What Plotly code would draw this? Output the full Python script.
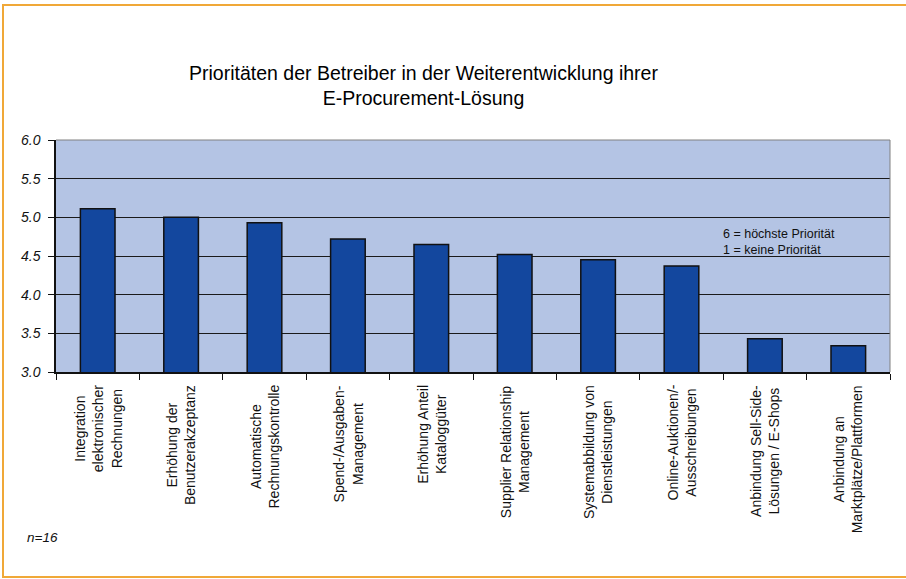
import plotly.graph_objects as go

categories = [
    "Integration<br>elektronischer<br>Rechnungen",
    "Erhöhung der<br>Benutzerakzeptanz",
    "Automatische<br>Rechnungskontrolle",
    "Spend-/Ausgaben-<br>Management",
    "Erhöhung Anteil<br>Kataloggüter",
    "Supplier Relationship<br>Management",
    "Systemabbildung von<br>Dienstleistungen",
    "Online-Auktionen/-<br>Ausschreibungen",
    "Anbindung Sell-Side-<br>Lösungen / E-Shops",
    "Anbindung an<br>Marktplätze/Plattformen",
]
values = [5.11, 5.00, 4.93, 4.72, 4.65, 4.52, 4.45, 4.37, 3.43, 3.34]
y_ticks = [3.0, 3.5, 4.0, 4.5, 5.0, 5.5, 6.0]
title_text = "Prioritäten der Betreiber in der Weiterentwicklung ihrer<br>E-Procurement-Lösung"
legend_text = "6 = höchste Priorität<br>1 = keine Priorität"
note_text = "n=16"

FONT = "Arial, Liberation Sans, sans-serif"
W, H = 906, 579
ML, MR, MT, MB = 56, 16, 140, 207
PW, PH = W - ML - MR, H - MT - MB


def px_x(p):
    return (p - ML) / PW


def px_y(p):
    return (H - MB - p) / PH


fig = go.Figure()
fig.add_trace(go.Bar(
    x=list(range(len(categories))),
    y=values,
    marker=dict(color="#13479E", line=dict(color="#111111", width=1.5)),
    hoverinfo="skip",
))

annotations = []
for i, c in enumerate(categories):
    annotations.append(dict(
        x=i, xref="x", y=px_y(383), yref="paper",
        text=c, textangle=-90, showarrow=False,
        xanchor="center", yanchor="top", align="center",
        font=dict(family=FONT, size=14, color="#111111"),
    ))
annotations.append(dict(
    x=px_x(423), xref="paper", y=px_y(86), yref="paper",
    text=title_text, showarrow=False, xanchor="center", yanchor="middle",
    align="center", font=dict(family=FONT, size=19.5, color="#000000"),
))
annotations.append(dict(
    x=px_x(721), xref="paper", y=px_y(225), yref="paper",
    text=legend_text, showarrow=False, xanchor="left", yanchor="top",
    align="left", font=dict(family=FONT, size=12.5, color="#111111"),
))
annotations.append(dict(
    x=px_x(25), xref="paper", y=px_y(537), yref="paper",
    text=note_text, showarrow=False, xanchor="left", yanchor="middle",
    font=dict(family=FONT, size=13.5, color="#111111", style="italic"),
))

shapes = [
    dict(type="rect", xref="paper", yref="paper",
         x0=px_x(3), x1=px_x(912), y0=px_y(577), y1=px_y(5),
         line=dict(color="#F0A838", width=2), fillcolor="rgba(0,0,0,0)", layer="below"),
    dict(type="path", xref="paper", yref="paper",
         path="M 0,1 L 1,1 L 1,0", line=dict(color="#808080", width=1), layer="above"),
]

fig.update_layout(
    width=W, height=H,
    margin=dict(l=ML, r=MR, t=MT, b=MB, pad=0),
    paper_bgcolor="#FFFFFF",
    plot_bgcolor="#B4C4E4",
    showlegend=False,
    bargap=0.585,
    annotations=annotations,
    shapes=shapes,
    font=dict(family=FONT, color="#111111"),
    xaxis=dict(
        type="linear", range=[-0.5, len(categories) - 0.5],
        tickmode="array", tickvals=[i - 0.5 for i in range(len(categories) + 1)],
        showticklabels=False, ticks="outside", ticklen=6, tickcolor="#111111",
        showline=True, linecolor="#111111", linewidth=1.5,
        showgrid=False, zeroline=False, fixedrange=True,
    ),
    yaxis=dict(
        range=[3.0, 6.0], tickmode="array", tickvals=y_ticks,
        ticktext=[f"{v:.1f}" for v in y_ticks],
        ticks="outside", ticklen=6, tickcolor="#111111",
        ticklabelstandoff=5,
        tickfont=dict(family=FONT, size=14, color="#111111", style="italic"),
        showline=True, linecolor="#111111", linewidth=1.5,
        showgrid=True, gridcolor="#1A1A1A", gridwidth=1,
        zeroline=False, fixedrange=True,
    ),
)

fig.write_html(
    "out.html",
    config={"displayModeBar": False},
    post_script="document.body.style.margin='0';document.body.style.overflow='hidden';",
)
